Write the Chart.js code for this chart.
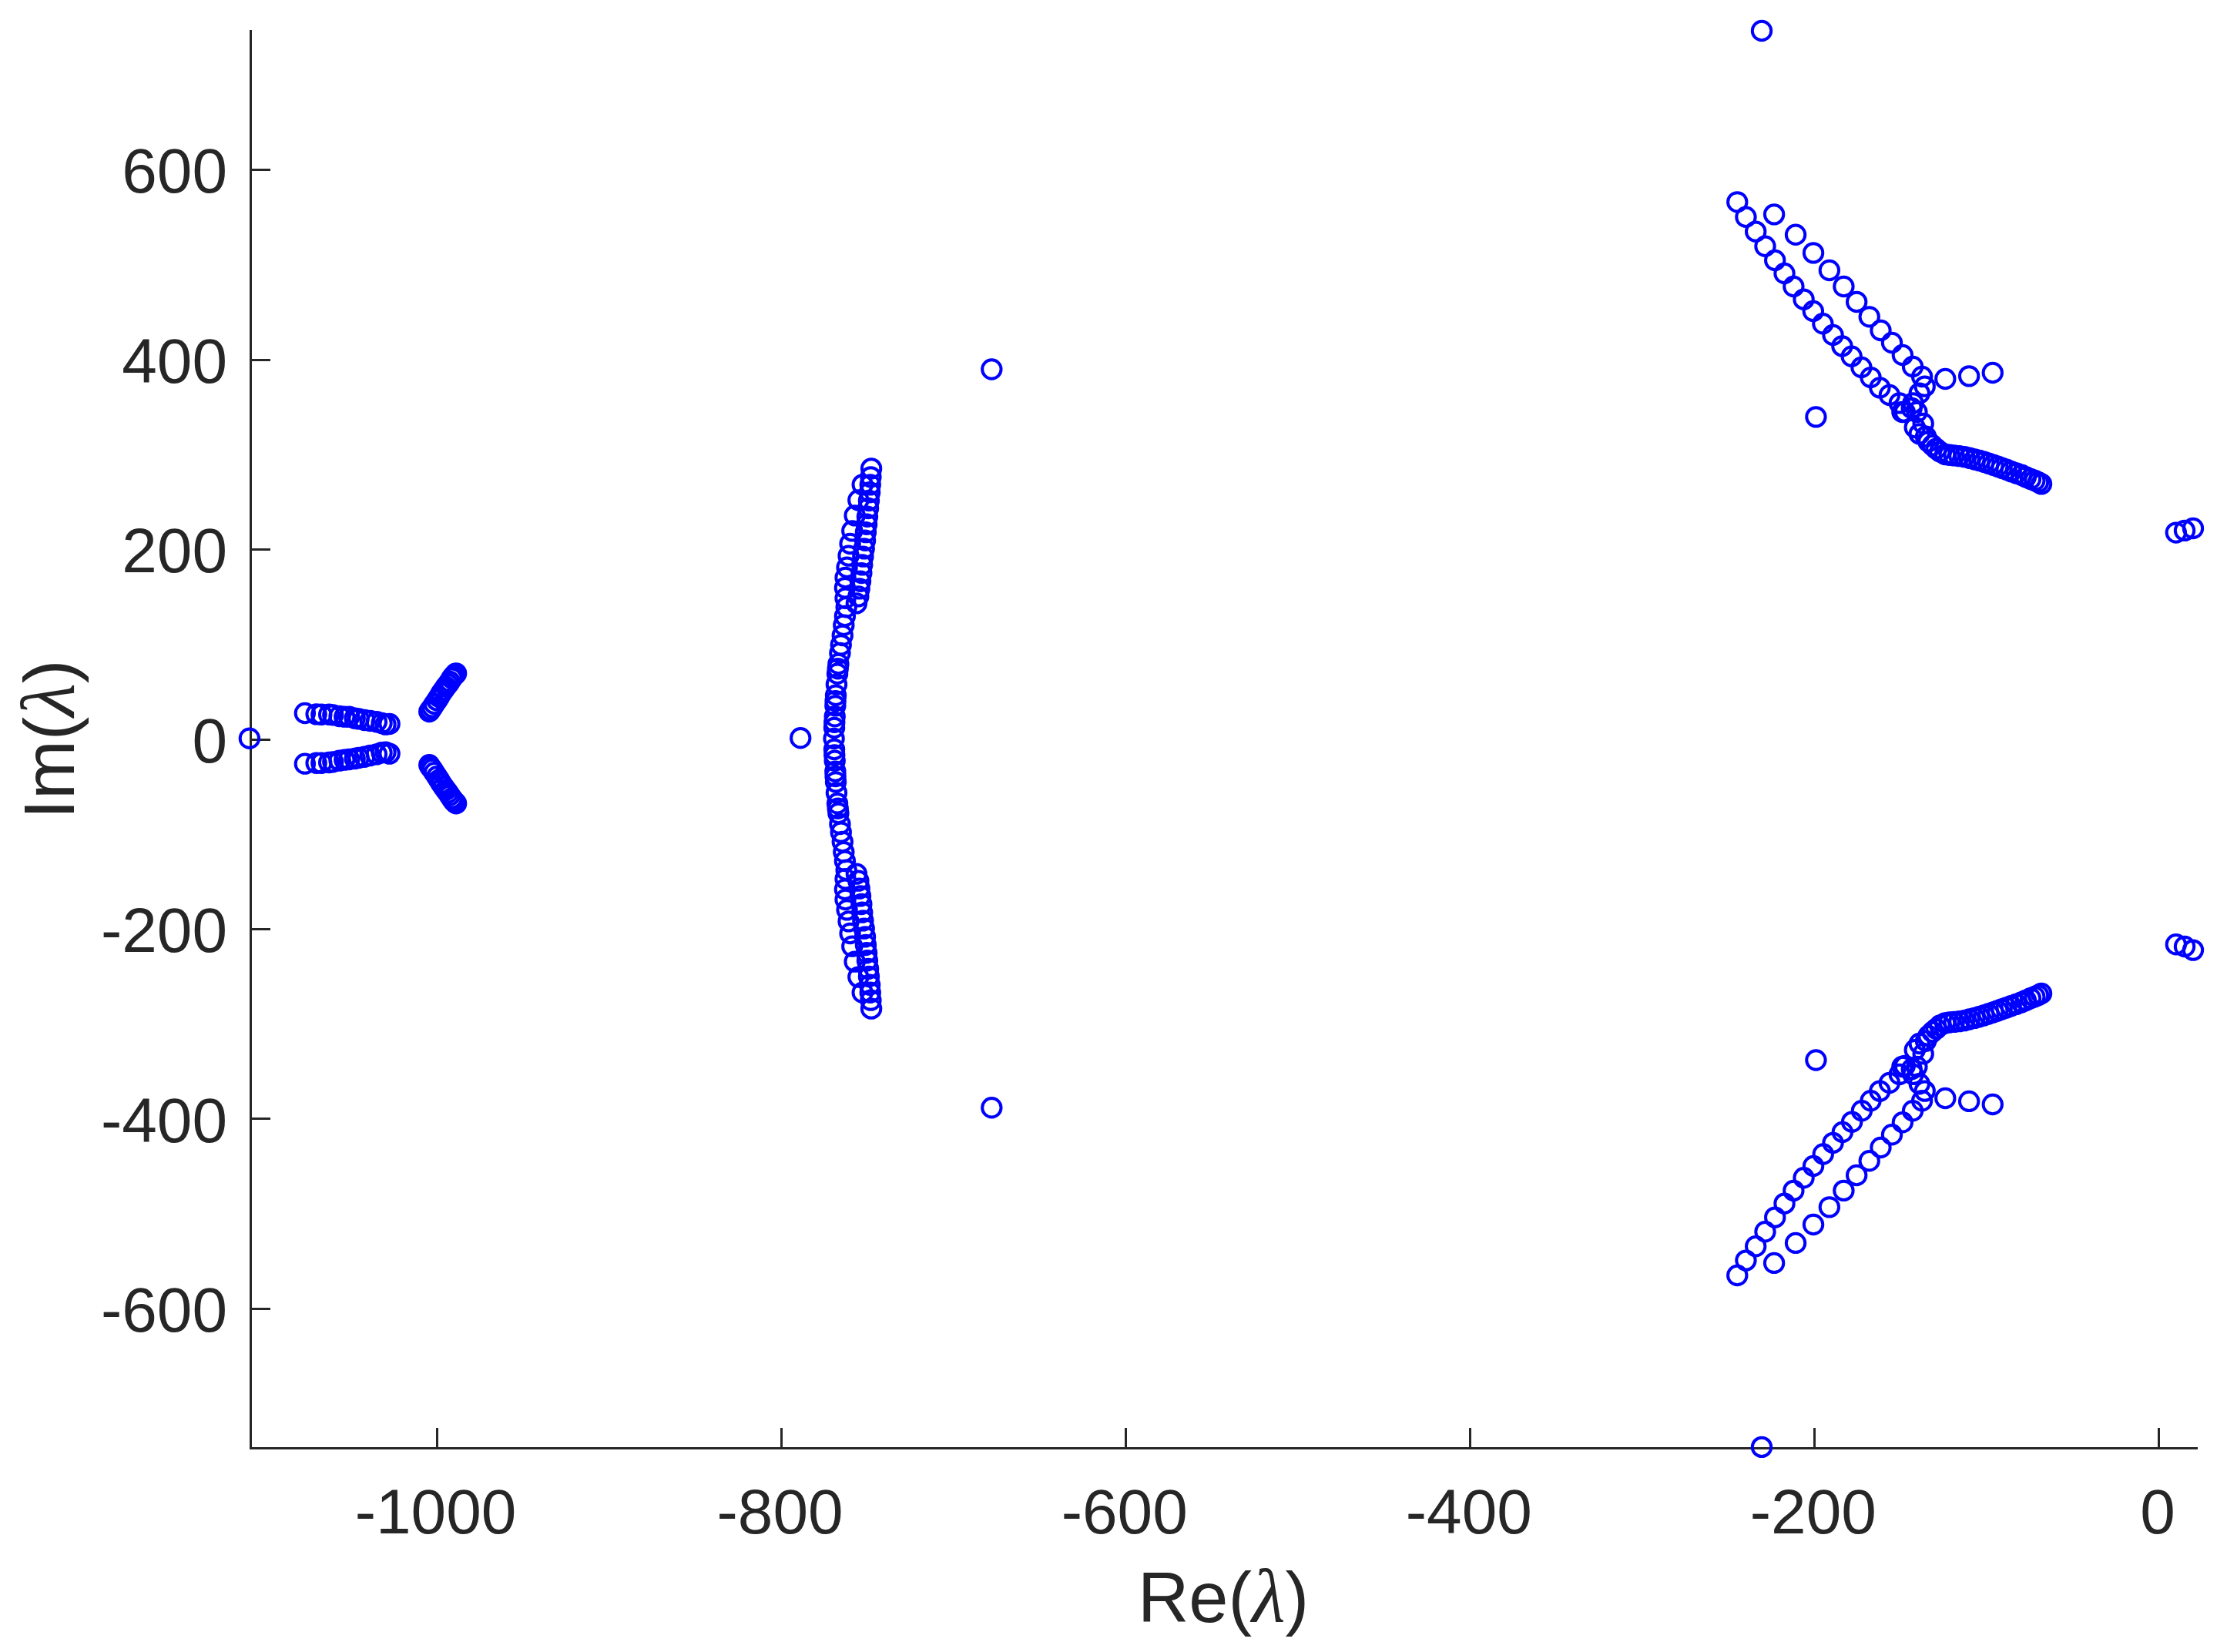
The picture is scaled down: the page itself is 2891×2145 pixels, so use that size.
<!DOCTYPE html>
<html>
<head>
<meta charset="utf-8">
<title>Re / Im eigenvalue plot</title>
<script src="https://cdn.jsdelivr.net/npm/chart.js@4/dist/chart.umd.min.js"></script>
<style>
  html, body { margin: 0; padding: 0; background: #fff; overflow: hidden; }
  canvas { display: block; }
</style>
</head>
<body>
<canvas id="plot" width="2891" height="2145" style="width:2891px;height:2145px"></canvas>
<script>
// tick labels
const xTicks = [-1000, -800, -600, -400, -200, 0];
const yTicks = [-600, -400, -200, 0, 200, 400, 600];

// eigenvalues, [Re, Im]
const loners = [
  [-1109, 1], [-789, 1.4], [-678, 389.9], [-678, -388],
  [-230.8, 746.5], [-230.8, -745.6], [-199.3, 339.7], [-199.3, -338],
  [9.8, 217.8], [14.8, 220], [19.7, 222.3], [9.8, -216], [14.8, -218.3], [19.7, -222]
];
const farFanUpper = [
  [-1076.8, 27.6], [-1070.2, 26.5], [-1067.2, 26.2], [-1062.8, 26.2], [-1060.5, 25.7], [-1056.8, 24.4],
  [-1053.8, 23.8], [-1051.1, 23.8], [-1047.8, 22.2], [-1045.6, 21.6], [-1042.2, 20.3], [-1038.9, 19.5],
  [-1035.2, 18.4], [-1032.2, 17], [-1030, 15.7], [-1027.7, 16.2]
];
const farFanLower = [
  [-1076.8, -25.7], [-1070.2, -24.9], [-1067.2, -24.9], [-1062.8, -24.3], [-1060.5, -23.8], [-1056.8, -22.4],
  [-1053.8, -21.6], [-1051.1, -21.1], [-1047.8, -20.3], [-1045.6, -19.5], [-1042.2, -18.4], [-1038.9, -17],
  [-1035.2, -15.7], [-1032.2, -14], [-1030, -13.5], [-1027.7, -15.1]
];
const farWingUpper = [
  [-1004.6, 29.2], [-1003.9, 31.1], [-1002.8, 33.8], [-1001.6, 37.3], [-1000.1, 41.1], [-998.9, 44.6],
  [-997.6, 48.7], [-996.3, 51.9], [-994.9, 55.5], [-993.7, 58.2], [-992.7, 60.9], [-991.5, 64.4],
  [-990.7, 66.3], [-990, 67.6], [-989.4, 69], [-989, 69.5]
];
const farWingLower = [
  [-1004.6, -27], [-1003.9, -29.2], [-1002.8, -31.6], [-1001.6, -35.1], [-1000.1, -39.2], [-998.9, -42.7],
  [-997.6, -46.5], [-996.3, -50], [-994.9, -53.3], [-993.7, -56.2], [-992.7, -59], [-991.5, -62.2],
  [-990.7, -64.4], [-990, -65.7], [-989.4, -66.8], [-989, -67.6]
];
const arcSpine = [
  [-762.4, 139.3], [-763.2, 129.8], [-763.9, 120.3], [-764.6, 109.5], [-765.5, 99.5], [-766.1, 90.9],
  [-767, 79.5], [-767.3, 74.4], [-767.6, 69.2], [-768.1, 57.9], [-768.5, 46.5], [-768.7, 40.5],
  [-768.8, 35.4], [-769.1, 24.1], [-769.3, 18.1], [-769.4, 12.2], [-769.6, 0.8], [-769.4, -10.6],
  [-769.3, -16.5], [-769.1, -22.5], [-768.8, -33.8], [-768.7, -38.9], [-768.5, -44.9], [-768.1, -56.3],
  [-767.6, -67.6], [-767.3, -72.8], [-767, -77.9], [-766.1, -89.3], [-765.5, -97.9], [-764.6, -107.9],
  [-763.9, -118.7], [-763.2, -128.2], [-762.4, -137.7]
];
const arcLeftUpper = [
  [-753, 268.3], [-755.4, 252], [-757.5, 235.8], [-759, 219.6], [-760.2, 206.1], [-761.1, 193.4],
  [-762, 181.2], [-762.9, 170.4], [-763.2, 159.6], [-762.9, 148.7]
];
const arcLeftLower = [
  [-762.9, -147.1], [-763.2, -158], [-762.9, -168.8], [-762, -179.6], [-761.1, -191.8], [-760.2, -204.5],
  [-759, -218], [-757.5, -234.2], [-755.4, -250.4], [-753, -266.7]
];
const arcRightUpper = [
  [-747.9, 285.3], [-748.2, 276.4], [-748.5, 268.3], [-748.8, 260.2], [-749.3, 251.5], [-749.7, 243.4],
  [-750.2, 234.7], [-750.6, 226.6], [-751.1, 218.2], [-751.5, 209.6], [-752.1, 200.9], [-752.7, 192.6],
  [-753.2, 183.9], [-753.6, 175.2], [-754.2, 166.6], [-754.8, 158.7], [-755.4, 150.6], [-756.5, 143.3]
];
const arcRightLower = [
  [-747.9, -283.7], [-748.2, -274.8], [-748.5, -266.7], [-748.8, -258.6], [-749.3, -249.9], [-749.7, -241.8],
  [-750.2, -233.1], [-750.6, -225], [-751.1, -216.6], [-751.5, -208], [-752.1, -199.3], [-752.7, -191],
  [-753.2, -182.3], [-753.6, -173.6], [-754.2, -165], [-754.8, -157.1], [-755.4, -149], [-756.5, -141.7]
];
const nearInnerUpper = [
  [-245, 566.1], [-240, 550.4], [-234.3, 535], [-228.8, 519.5], [-223.1, 504.7], [-217.6, 490.9],
  [-212.3, 477.1], [-206.4, 463.6], [-200.9, 451.1], [-195.3, 437.9], [-189.4, 426], [-184.1, 414.3],
  [-178.6, 403.5], [-172.9, 391.9], [-167.5, 381.3], [-162.2, 370.5], [-156.6, 362.7], [-150.8, 354.3],
  [-149.2, 344.8]
];
const nearInnerLower = [
  [-245, -564.7], [-240, -549], [-234.3, -534.1], [-228.8, -518.7], [-223.1, -503.6], [-217.6, -489],
  [-212.3, -475.4], [-206.4, -461.9], [-200.8, -449.5], [-195.1, -437], [-189.4, -425.1], [-183.9, -413.8],
  [-178.4, -403], [-172.7, -391.3], [-167.5, -380.8], [-162.2, -370.5], [-156.6, -361.9], [-150.8, -352.9],
  [-149.2, -344.8]
];
const nearOuterUpper = [
  [-223.6, 553.1], [-211.1, 531.7], [-200.8, 512.5], [-191.5, 494.1], [-183.2, 477.1], [-175.7, 460.9],
  [-168.3, 445.2], [-161.7, 430.8], [-155.2, 417.9], [-149, 404.9], [-143.1, 392.7], [-137.7, 382.2],
  [-136.1, 371.9], [-139.2, 364.6], [-140.7, 344.8]
];
const nearOuterLower = [
  [-223.6, -551.7], [-211.1, -530.6], [-200.8, -511.2], [-191.5, -492.8], [-183.2, -475.4], [-175.7, -459.2],
  [-168.3, -444.1], [-161.7, -430], [-155.2, -416.5], [-149, -403.5], [-143.1, -391.3], [-137.7, -380.8],
  [-136.1, -370.5], [-139.2, -362.9], [-140.7, -344.8]
];
const sideUpper = [[-124.2, 379.7], [-110.4, 382.7], [-96.7, 386.2]];
const sideLower = [[-124.2, -378.1], [-110.4, -381.3], [-96.7, -384.6]];
const knotUpper = [
  [-147.7, 344.8], [-143.7, 348.9], [-142.9, 354.3], [-137, 332.7], [-141.9, 328.6], [-139.2, 321.8],
  [-135.5, 319.1], [-134, 313.7], [-131.7, 309.7], [-129.5, 306.2], [-127.3, 303], [-124.3, 300.2]
];
const knotLower = [
  [-147.7, -344], [-143.7, -347.5], [-142.9, -352.9], [-137, -331.3], [-141.9, -327.2], [-139.2, -320.5],
  [-135.5, -317.8], [-134, -312.4], [-131.7, -308.3], [-129.5, -305], [-127.3, -301.5], [-124.3, -298.9]
];
const tailUpper = [
  [-68.4, 269.1], [-70.2, 270.9], [-72.3, 272.6], [-74.7, 274.2], [-77.4, 276.4], [-80, 278.5],
  [-83, 280.4], [-86, 282.3], [-88.7, 284.2], [-91.4, 285.8], [-93.8, 287.4], [-96.4, 289.1],
  [-99.1, 290.7], [-101.8, 292.3], [-104.5, 293.7], [-107.2, 295], [-110.2, 296.4], [-113.1, 297.7],
  [-116.1, 298.5], [-119.1, 299.1], [-121.8, 299.6]
];
const tailLower = [
  [-68.4, -267.7], [-70.2, -269.5], [-72.3, -271.2], [-74.7, -272.8], [-77.4, -275], [-80, -277.1],
  [-83, -279], [-86, -280.9], [-88.7, -282.8], [-91.4, -284.4], [-93.8, -286], [-96.4, -287.7],
  [-99.1, -289.3], [-101.8, -290.9], [-104.5, -292.3], [-107.2, -293.6], [-110.2, -295], [-113.1, -296.3],
  [-116.1, -297.1], [-119.1, -297.7], [-121.8, -298.2]
];

const eigenvalues = [
  loners, farFanUpper, farFanLower, farWingUpper, farWingLower,
  arcSpine, arcLeftUpper, arcLeftLower, arcRightUpper, arcRightLower,
  nearInnerUpper, nearInnerLower, nearOuterUpper, nearOuterLower,
  sideUpper, sideLower, knotUpper, knotLower, tailUpper, tailLower
].flat().map(p => ({ x: p[0], y: p[1] }));

const ink = '#262626';
const labelFont = '92px "Liberation Sans"';
const lambdaFont = 'italic 100px "Liberation Serif"';

// axis titles with an italic lambda, so they are drawn piece by piece
const mathTitles = {
  id: 'mathTitles',
  afterDraw(chart) {
    const c = chart.ctx;
    const area = chart.chartArea;
    function drawTitle(before, after, cx, baseY, turned) {
      c.save();
      c.fillStyle = ink;
      c.textBaseline = 'alphabetic';
      c.textAlign = 'left';
      c.font = labelFont;
      const w1 = c.measureText(before).width;
      const w3 = c.measureText(after).width;
      c.font = lambdaFont;
      const w2 = c.measureText('λ').width;
      if (turned) {
        c.translate(baseY, cx);
        c.rotate(-Math.PI / 2);
      } else {
        c.translate(cx, baseY);
      }
      let x = -(w1 + w2 + w3) / 2;
      c.font = labelFont;
      c.fillText(before, x, 0);
      x += w1;
      c.font = lambdaFont;
      c.fillText('λ', x, 0);
      x += w2;
      c.font = labelFont;
      c.fillText(after, x, 0);
      c.restore();
    }
    drawTitle('Re(', ')', (area.left + area.right) / 2, area.bottom + 226, false);
    drawTitle('Im(', ')', (area.top + area.bottom) / 2, area.left - 229, true);
  }
};

// the labels sit a few pixels off their ticks in the original
function nudgeLabels(scale, dx, dy) {
  const draw = scale.drawLabels;
  scale.drawLabels = function (area) {
    scale.ctx.save();
    scale.ctx.translate(dx, dy);
    draw.call(scale, area);
    scale.ctx.restore();
  };
}
const labelNudge = {
  id: 'labelNudge',
  afterLayout(chart) {
    if (chart.$nudged) return;
    chart.$nudged = true;
    nudgeLabels(chart.scales.x, -2, 0);
    nudgeLabels(chart.scales.y, 0, 7);
  }
};

function axisGrid() {
  return { drawOnChartArea: false, drawTicks: true, tickLength: -26, tickWidth: 3, tickColor: ink, lineWidth: 3, color: ink };
}

new Chart(document.getElementById('plot'), {
  type: 'scatter',
  data: {
    datasets: [{
      data: eigenvalues,
      showLine: false,
      clip: false,
      pointStyle: 'circle',
      pointRadius: 12.2,
      pointBorderWidth: 4,
      pointBorderColor: '#0000ff',
      pointBackgroundColor: 'transparent'
    }]
  },
  options: {
    responsive: false,
    devicePixelRatio: 1,
    animation: false,
    layout: { padding: { top: 40, right: 40, left: 0, bottom: 0 } },
    plugins: { legend: { display: false }, tooltip: { enabled: false } },
    scales: {
      x: {
        type: 'linear',
        position: 'bottom',
        min: -1108.5,
        max: 21.5,
        afterFit(scale) { scale.height = 265; scale.paddingLeft = 0; scale.paddingRight = 0; },
        afterBuildTicks(scale) { scale.ticks = xTicks.map(v => ({ value: v })); },
        grid: axisGrid(),
        border: { color: ink, width: 3 },
        ticks: {
          color: ink,
          padding: 65,
          maxRotation: 0,
          autoSkip: false,
          font: { family: '"Liberation Sans"', size: 82 },
          callback: v => String(v)
        }
      },
      y: {
        type: 'linear',
        position: 'left',
        min: -746.5,
        max: 746.5,
        afterFit(scale) { scale.width = 325; scale.paddingTop = 0; scale.paddingBottom = 0; },
        afterBuildTicks(scale) { scale.ticks = yTicks.map(v => ({ value: v })); },
        grid: axisGrid(),
        border: { color: ink, width: 3 },
        ticks: {
          color: ink,
          padding: 56,
          autoSkip: false,
          font: { family: '"Liberation Sans"', size: 82 },
          callback: v => String(v)
        }
      }
    }
  },
  plugins: [mathTitles, labelNudge]
});
</script>
</body>
</html>
